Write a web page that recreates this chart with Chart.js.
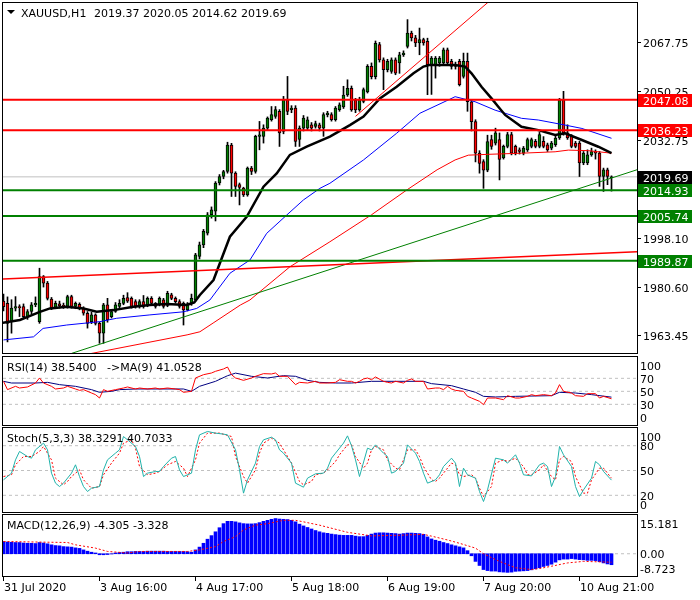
<!DOCTYPE html>
<html>
<head>
<meta charset="utf-8">
<title>XAUUSD,H1</title>
<script src="https://cdn.jsdelivr.net/npm/chart.js@4.4.0/dist/chart.umd.min.js"></script>
<style>
  html, body { margin: 0; padding: 0; background: #fff; }
  #wrap { position: relative; width: 700px; height: 600px; }
  #wrap canvas { position: absolute; left: 0; top: 0; }
</style>
</head>
<body>
<div id="wrap">
  <canvas id="mainChart" width="700" height="600"></canvas>
  <canvas id="rsiChart" width="700" height="600"></canvas>
  <canvas id="stochChart" width="700" height="600"></canvas>
  <canvas id="macdChart" width="700" height="600"></canvas>
</div>
<script>
// ==============================
// DATA
// ==============================
const symbolTitle = "XAUUSD,H1";
const lastQuote = ["2019.37", "2020.05", "2014.62", "2019.69"];

const timeLabels = ["31 Jul 2020", "3 Aug 16:00", "4 Aug 17:00", "5 Aug 18:00", "6 Aug 19:00", "7 Aug 20:00", "10 Aug 21:00"];
const timeLabelBars = [0, 24, 48, 72, 96, 120, 144];

const openPrices = [
  1975.5, 1974.7, 1968.2, 1973.0, 1973.5, 1973.6, 1970.0, 1971.8, 1974.2, 1968.2,
  1984.2, 1981.9, 1976.2, 1973.3, 1974.5, 1974.0, 1973.6, 1977.1, 1973.6, 1974.4,
  1973.0, 1971.2, 1968.2, 1970.6, 1967.6, 1964.1, 1974.2, 1970.0, 1971.8, 1973.6,
  1974.7, 1976.8, 1976.5, 1975.3, 1973.6, 1975.3, 1974.0, 1976.5, 1974.7, 1974.2,
  1976.0, 1974.0, 1977.7, 1976.5, 1975.3, 1974.7, 1972.4, 1974.5, 1975.9, 1991.4,
  1995.5, 1999.7, 2006.2, 2007.5, 2017.5, 2019.8, 2021.6, 2031.0, 2021.0, 2016.9,
  2015.7, 2013.3, 2022.8, 2021.6, 2034.1, 2034.1, 2037.0, 2040.0, 2041.2, 2043.0,
  2035.8, 2047.1, 2043.6, 2044.1, 2033.0, 2037.0, 2037.0, 2038.2, 2037.6, 2038.2,
  2037.0, 2041.8, 2041.8, 2040.0, 2043.6, 2044.6, 2048.8, 2051.2, 2046.9, 2043.5,
  2046.5, 2049.9, 2059.0, 2055.3, 2066.7, 2061.3, 2057.8, 2057.2, 2061.3, 2060.2,
  2063.1, 2066.1, 2070.8, 2069.1, 2067.3, 2068.5, 2067.9, 2059.6, 2059.6, 2060.2,
  2060.2, 2064.9, 2060.8, 2059.6, 2060.8, 2055.4, 2060.8, 2046.4, 2039.3, 2028.1,
  2025.1, 2022.1, 2032.9, 2031.7, 2032.9, 2026.4, 2030.5, 2034.7, 2030.5, 2029.3,
  2028.1, 2029.3, 2030.5, 2032.3, 2030.5, 2032.3, 2031.1, 2029.9, 2031.1, 2033.5,
  2047.1, 2035.3, 2034.1, 2031.7, 2031.7, 2024.6, 2024.6, 2027.5, 2028.7, 2028.1,
  2019.8, 2022.2, 2019.37
];
const highPrices = [
  1978.0, 1977.0, 1976.0, 1977.1, 1974.2, 1974.5, 1972.5, 1975.0, 1977.0, 1987.2,
  1984.6, 1982.5, 1976.8, 1975.5, 1975.5, 1974.8, 1977.6, 1977.6, 1975.2, 1974.9,
  1973.5, 1971.8, 1971.5, 1971.0, 1968.0, 1974.7, 1976.5, 1972.5, 1975.0, 1976.0,
  1977.6, 1978.5, 1977.0, 1976.0, 1976.0, 1977.5, 1977.0, 1977.1, 1975.0, 1977.0,
  1976.5, 1979.0, 1978.3, 1977.0, 1976.0, 1975.2, 1975.0, 1978.0, 1992.5, 1996.5,
  2001.0, 2007.0, 2009.0, 2018.0, 2020.5, 2022.0, 2032.0, 2031.6, 2021.5, 2017.5,
  2016.0, 2023.2, 2023.4, 2034.5, 2039.4, 2038.2, 2041.0, 2044.7, 2044.7, 2043.6,
  2048.3, 2055.4, 2045.0, 2045.0, 2037.8, 2041.5, 2041.0, 2039.0, 2039.5, 2038.8,
  2042.5, 2043.0, 2042.5, 2044.7, 2046.0, 2051.9, 2054.2, 2052.0, 2047.6, 2048.0,
  2051.3, 2059.6, 2060.2, 2068.0, 2067.5, 2062.0, 2061.5, 2062.0, 2062.0, 2064.0,
  2064.5, 2075.6, 2071.5, 2070.0, 2072.6, 2069.0, 2069.0, 2062.5, 2062.5, 2062.5,
  2065.5, 2065.5, 2061.5, 2060.5, 2061.5, 2063.7, 2063.7, 2047.0, 2040.0, 2029.0,
  2025.8, 2034.5, 2034.5, 2037.0, 2035.3, 2031.0, 2035.5, 2035.5, 2031.0, 2030.0,
  2030.5, 2033.5, 2033.5, 2033.0, 2035.5, 2034.0, 2031.7, 2032.3, 2034.1, 2047.6,
  2050.1, 2038.2, 2034.7, 2032.3, 2032.3, 2028.7, 2029.3, 2029.9, 2029.3, 2028.7,
  2022.8, 2022.8, 2020.05
];
const lowPrices = [
  1972.0, 1961.0, 1964.1, 1972.0, 1970.0, 1969.5, 1969.0, 1971.0, 1973.5, 1967.6,
  1980.5, 1975.9, 1972.5, 1972.8, 1973.0, 1972.9, 1973.0, 1973.0, 1972.8, 1972.4,
  1970.5, 1965.9, 1967.5, 1967.0, 1960.5, 1960.5, 1968.0, 1969.5, 1971.5, 1973.0,
  1974.2, 1975.0, 1973.0, 1973.0, 1973.0, 1973.0, 1973.5, 1974.0, 1973.0, 1973.8,
  1973.0, 1973.5, 1976.0, 1974.8, 1973.0, 1967.0, 1972.0, 1974.0, 1975.5, 1990.5,
  1994.5, 1999.0, 2005.0, 2004.0, 2016.8, 2019.0, 2021.0, 2012.7, 2012.7, 2009.7,
  2012.7, 2012.8, 2020.5, 2021.0, 2029.3, 2031.7, 2036.5, 2039.5, 2040.5, 2030.5,
  2035.0, 2041.8, 2042.5, 2030.5, 2030.5, 2036.0, 2036.5, 2036.0, 2037.0, 2036.0,
  2034.1, 2041.0, 2039.5, 2039.5, 2043.0, 2044.0, 2048.3, 2043.0, 2042.5, 2043.0,
  2046.0, 2049.5, 2054.5, 2054.5, 2060.5, 2050.7, 2057.0, 2056.5, 2056.0, 2056.5,
  2062.5, 2065.5, 2068.0, 2066.0, 2063.1, 2066.5, 2048.9, 2049.0, 2054.8, 2059.0,
  2059.5, 2059.5, 2058.0, 2058.0, 2052.0, 2054.8, 2043.0, 2036.0, 2025.0, 2021.0,
  2015.6, 2021.5, 2029.5, 2031.0, 2018.6, 2026.0, 2030.0, 2027.5, 2027.5, 2027.8,
  2027.5, 2028.7, 2030.0, 2030.0, 2030.0, 2030.0, 2028.7, 2029.3, 2030.5, 2033.0,
  2034.5, 2033.0, 2030.0, 2030.0, 2019.8, 2024.0, 2024.0, 2027.0, 2026.0, 2016.3,
  2014.5, 2016.9, 2014.62
];
const closePrices = [
  1973.5, 1967.6, 1973.0, 1973.6, 1973.2, 1970.0, 1971.8, 1974.2, 1974.7, 1984.2,
  1981.9, 1976.5, 1973.0, 1974.7, 1973.8, 1973.6, 1977.1, 1973.6, 1974.7, 1973.0,
  1971.2, 1967.6, 1970.6, 1967.6, 1964.1, 1974.2, 1968.8, 1971.8, 1974.2, 1974.7,
  1976.5, 1975.5, 1973.6, 1973.6, 1975.3, 1973.6, 1976.5, 1974.7, 1973.6, 1976.5,
  1973.6, 1978.3, 1976.5, 1975.3, 1973.6, 1972.4, 1974.5, 1976.5, 1992.0, 1995.5,
  2000.3, 2006.2, 2008.0, 2017.5, 2019.8, 2021.6, 2031.0, 2021.0, 2016.3, 2015.9,
  2013.3, 2022.8, 2021.6, 2034.1, 2034.6, 2037.0, 2040.6, 2041.8, 2043.6, 2035.3,
  2047.1, 2043.0, 2044.1, 2032.3, 2037.0, 2040.6, 2040.0, 2037.0, 2038.6, 2037.0,
  2041.8, 2042.4, 2040.0, 2044.1, 2045.3, 2048.8, 2051.2, 2043.5, 2043.5, 2047.1,
  2050.7, 2059.0, 2055.3, 2067.2, 2061.3, 2057.8, 2060.8, 2061.3, 2056.6, 2063.1,
  2063.7, 2070.8, 2069.1, 2067.3, 2068.5, 2067.3, 2059.6, 2061.9, 2061.9, 2061.9,
  2064.9, 2060.2, 2059.0, 2059.0, 2052.5, 2060.8, 2046.4, 2039.3, 2028.1, 2024.5,
  2022.1, 2032.2, 2030.5, 2035.3, 2025.9, 2030.5, 2034.7, 2028.1, 2028.1, 2028.7,
  2029.9, 2032.9, 2032.9, 2030.5, 2034.7, 2030.5, 2029.3, 2031.7, 2033.5, 2047.1,
  2035.3, 2033.5, 2030.5, 2030.5, 2024.6, 2028.1, 2027.5, 2028.7, 2028.1, 2019.8,
  2022.2, 2019.8, 2019.69
];

// price scale labels and levels
const priceTicks = [2067.75, 2050.25, 2032.75, 2015.25, 1998.10, 1980.60, 1963.45];
const lastPrice = 2019.69;
const resistanceLevels = [2047.08, 2036.23];
const supportLevels = [2014.93, 2005.74, 1989.87];

// moving averages (at their turning points)
const fastMaBars = [-0.9, 4.1, 9.1, 11.6, 15.8, 20, 23.3, 27.5, 32.5, 36.6, 40.8, 45.8, 47.7, 49.1, 52.5, 56.6, 60.8, 65, 68.3, 71.6, 75.8, 81.6, 86.6, 90, 94.1, 98.3, 102.5, 105, 106.6, 112.9, 115.4, 117, 119.5, 122, 123.7, 125.4, 129.5, 133.7, 137.9, 140.4, 144.6, 148.7, 152];
const fastMaValues = [1967.6, 1968.8, 1971.7, 1972.9, 1973.5, 1972.9, 1971.7, 1972.3, 1973.5, 1974.1, 1974.5, 1974.1, 1975.0, 1977.7, 1983.0, 1998.4, 2005.5, 2016.2, 2020.9, 2027.5, 2030.4, 2034.0, 2038.1, 2041.1, 2047.6, 2051.7, 2056.5, 2058.9, 2059.5, 2059.5, 2058.9, 2056.5, 2051.7, 2047.6, 2044.6, 2041.7, 2037.5, 2036.3, 2034.6, 2035.2, 2032.8, 2030.4, 2028.1];
const midMaBars = [0, 7.5, 9.9, 15.8, 24.1, 28.3, 36.6, 45, 48.3, 51.6, 56.6, 61.6, 65.8, 70.8, 75, 79.1, 81.6, 90, 98.3, 104.1, 111.6, 112.9, 117.9, 122.9, 129.5, 133.7, 140.4, 144.6, 152];
const midMaValues = [1961.7, 1962.8, 1965.8, 1967.0, 1968.2, 1969.4, 1970.6, 1971.7, 1972.9, 1975.9, 1985.4, 1990.1, 1999.6, 2006.1, 2011.5, 2015.6, 2017.4, 2025.7, 2035.2, 2042.3, 2047.3, 2048.2, 2046.4, 2043.4, 2040.5, 2039.9, 2038.1, 2036.9, 2033.4];
const slowMaBars = [14, 22.4, 45.9, 49.1, 52.4, 59.2, 61.6, 71.6, 81.6, 92, 100.9, 108.4, 112.9, 116.2, 121.2, 129.5, 137.9, 141.2, 146.2, 152];
const slowMaValues = [1954.8, 1957.0, 1963.5, 1964.6, 1967.7, 1974.1, 1975.9, 1987.7, 1996.6, 2006.2, 2015.1, 2022.2, 2025.7, 2027.4, 2027.7, 2028.1, 2028.6, 2029.2, 2029.0, 2028.1];

// trend lines (two anchor points each)
const greenTrendBars = [17, 159];
const greenTrendPrices = [1956.9, 2022.5];
const redTrendBars = [-1, 159];
const redTrendPrices = [1983.3, 1993.1];
const steepTrendBars = [88, 125];
const steepTrendPrices = [2041.2, 2086.5];

// RSI(14) and its MA(9)
const rsiTitle = ["RSI(14) 38.5400", "->MA(9) 41.0528"];
const rsiBars = [0, 1, 3, 4, 6, 8, 9, 10, 12, 13, 15, 16, 18, 19, 20, 22, 23, 24, 25, 26, 28, 30, 31, 33, 34, 36, 38, 39, 41, 43, 44, 45, 47, 48, 50, 52, 53, 55, 56, 57, 58, 60, 62, 63, 65, 67, 68, 69, 71, 73, 74, 76, 78, 79, 81, 83, 84, 86, 87, 88, 89, 90, 91, 92, 93, 95, 96, 97, 98, 100, 101, 102, 103, 105, 106, 108, 109, 110, 111, 112, 113, 115, 116, 117, 119, 120, 121, 123, 125, 126, 128, 129, 131, 132, 133, 135, 137, 138, 139, 140, 142, 143, 145, 146, 148, 149, 150, 152];
const rsiValues = [65.4, 52.6, 57.7, 55.1, 56.7, 62.8, 70.5, 62.8, 57.7, 53.6, 55.1, 57.7, 53.6, 51.5, 52.6, 47.4, 44.9, 39.7, 52.6, 50.0, 52.6, 55.1, 56.7, 53.6, 55.1, 53.6, 55.1, 53.6, 55.1, 53.6, 52.6, 48.5, 50.0, 70.5, 75.6, 78.2, 80.8, 84.4, 87.4, 75.6, 70.5, 66.9, 70.5, 73.1, 77.2, 76.7, 78.2, 73.1, 73.1, 60.3, 63.8, 62.8, 65.4, 62.8, 62.8, 63.8, 67.9, 65.4, 65.4, 62.8, 65.4, 69.0, 70.5, 67.9, 72.1, 65.4, 63.8, 62.8, 65.4, 62.8, 66.9, 69.0, 65.4, 65.4, 53.6, 55.1, 55.1, 52.6, 57.7, 53.6, 51.5, 50.0, 42.3, 39.7, 34.6, 29.5, 39.7, 39.7, 37.2, 43.3, 39.7, 39.7, 42.3, 44.9, 43.3, 44.9, 43.3, 47.4, 60.3, 50.0, 47.4, 43.3, 42.3, 46.4, 46.4, 39.7, 42.3, 38.54];
const rsiMaBars = [0, 2, 8, 11, 14, 18, 22, 24, 27, 29, 33, 45, 47, 49, 53, 56, 58, 62, 66, 70, 73, 76, 79, 83, 87, 92, 105, 107, 112, 115, 118, 120, 123, 128, 137, 139, 143, 147, 152];
const rsiMaValues = [65.4, 62.8, 62.8, 63.8, 60.3, 57.7, 52.6, 48.5, 50.0, 52.6, 53.6, 53.6, 50.0, 57.7, 65.4, 74.0, 78.0, 73.1, 70.5, 74.1, 73.1, 66.9, 63.8, 62.8, 62.8, 65.4, 65.4, 61.8, 58.7, 53.6, 48.5, 42.3, 41.3, 42.3, 43.3, 48.5, 47.4, 44.9, 41.05];
const rsiLevels = [70, 50, 30];
const rsiScaleTicks = [100, 70, 50, 30, 0];

// Stochastic(5,3,3)
const stochTitle = "Stoch(5,3,3) 38.3291 40.7033";
const stochKBars = [0, 2, 3, 4, 6, 7, 8, 10, 11, 12, 13, 14, 15, 17, 18, 19, 20, 21, 22, 24, 25, 26, 28, 29, 30, 31, 33, 34, 35, 36, 38, 39, 40, 42, 43, 44, 45, 47, 48, 49, 51, 53, 55, 56, 58, 59, 60, 61, 63, 64, 65, 67, 68, 69, 70, 72, 73, 75, 76, 78, 80, 81, 82, 83, 85, 86, 87, 88, 89, 91, 92, 93, 95, 96, 97, 98, 100, 101, 103, 104, 105, 106, 108, 109, 110, 112, 113, 114, 115, 116, 118, 119, 120, 121, 123, 125, 126, 128, 129, 130, 132, 134, 135, 136, 137, 138, 139, 140, 142, 143, 144, 145, 147, 148, 149, 150, 152];
const stochKValues = [38.7, 46.8, 62.9, 73.0, 66.9, 64.9, 75.0, 83.1, 75.0, 46.8, 34.7, 30.6, 34.7, 46.8, 56.9, 42.7, 30.6, 24.6, 28.6, 30.6, 50.8, 62.9, 71.0, 75.0, 91.1, 87.1, 79.0, 66.9, 42.7, 46.8, 48.8, 48.8, 54.8, 64.9, 66.9, 50.8, 42.7, 46.8, 75.0, 93.1, 97.2, 95.2, 94.0, 93.1, 75.0, 50.8, 22.6, 38.7, 58.9, 79.0, 87.1, 90.3, 87.1, 75.0, 71.0, 58.9, 34.7, 29.8, 40.7, 46.0, 46.8, 52.8, 64.9, 71.0, 83.1, 91.9, 80.0, 62.9, 42.7, 77.0, 75.0, 81.0, 71.0, 66.9, 46.8, 48.8, 58.9, 81.0, 71.0, 60.9, 46.8, 34.7, 38.7, 44.8, 54.8, 64.9, 58.9, 30.6, 52.8, 44.8, 40.7, 24.6, 12.5, 26.6, 64.9, 62.9, 58.9, 69.0, 58.9, 44.8, 43.5, 56.9, 58.9, 54.8, 30.6, 42.7, 79.0, 69.0, 54.8, 30.6, 18.5, 26.6, 40.7, 60.9, 56.9, 48.8, 38.33];
const stochDBars = [0, 2, 3, 5, 7, 9, 10, 12, 13, 15, 16, 17, 19, 20, 22, 24, 25, 27, 29, 30, 32, 33, 34, 36, 38, 39, 41, 43, 45, 46, 48, 49, 51, 54, 57, 58, 60, 61, 63, 64, 65, 67, 69, 70, 72, 74, 75, 77, 78, 80, 81, 83, 84, 86, 87, 88, 90, 91, 92, 93, 95, 96, 98, 99, 100, 101, 103, 104, 105, 107, 108, 109, 110, 112, 113, 114, 115, 117, 118, 119, 120, 122, 123, 125, 126, 128, 130, 131, 132, 134, 135, 137, 138, 139, 140, 142, 143, 145, 146, 147, 149, 150, 152];
const stochDValues = [42.7, 44.8, 56.9, 66.9, 66.9, 73.0, 79.0, 62.9, 40.7, 32.7, 36.7, 42.7, 50.8, 38.7, 28.6, 30.6, 44.8, 58.9, 71.0, 83.1, 87.1, 77.0, 54.8, 44.8, 46.8, 48.8, 56.9, 60.9, 52.8, 42.7, 62.9, 83.1, 95.2, 95.2, 91.1, 66.9, 42.7, 34.7, 50.8, 71.0, 83.1, 89.1, 83.1, 75.0, 58.9, 36.7, 32.7, 36.7, 44.8, 46.8, 50.8, 60.9, 69.0, 81.0, 81.0, 66.9, 52.8, 58.9, 75.0, 79.0, 75.0, 62.9, 52.8, 50.8, 62.9, 75.0, 75.0, 66.9, 54.8, 38.7, 36.7, 40.7, 46.8, 58.9, 56.9, 44.8, 42.7, 44.8, 40.7, 28.6, 18.5, 30.6, 58.9, 62.9, 60.9, 64.9, 54.8, 44.8, 44.8, 50.8, 56.9, 42.7, 38.7, 62.9, 66.9, 60.9, 42.7, 22.6, 22.6, 38.7, 52.8, 52.8, 40.70];
const stochLevels = [80, 50, 20];
const stochScaleTicks = [100, 80, 50, 20, 0];

// MACD(12,26,9)
const macdTitle = "MACD(12,26,9) -4.305 -3.328";
const macdHistogram = [
  4.8, 4.6, 4.5, 4.4, 4.4, 4.2, 4.1, 4.1, 4.0, 4.4,
  4.2, 3.9, 3.5, 3.2, 3.1, 2.8, 2.7, 2.6, 2.3, 2.1,
  1.5, 1.0, 0.6, 0.3, -0.4, -0.4, -0.3, -0.1, 0.3, 0.5,
  0.6, 0.8, 0.8, 0.9, 0.9, 0.9, 1.0, 1.0, 1.0, 1.0,
  1.0, 0.9, 0.9, 0.9, 0.9, 0.9, 0.8, 0.6, 1.5, 2.6,
  4.1, 5.7, 7.1, 8.6, 10.2, 11.8, 12.7, 12.7, 12.5, 12.1,
  11.8, 11.7, 11.7, 11.8, 12.2, 12.7, 13.1, 13.5, 13.8, 13.6,
  13.5, 13.4, 13.1, 12.5, 11.6, 10.9, 10.3, 9.7, 9.1, 8.6,
  8.2, 8.0, 7.7, 7.5, 7.3, 7.2, 7.2, 7.2, 6.9, 6.7,
  6.7, 7.2, 7.7, 8.1, 8.2, 8.2, 8.1, 8.0, 7.9, 7.7,
  7.9, 8.1, 8.1, 8.0, 7.9, 7.6, 6.6, 5.8, 5.3, 4.9,
  4.4, 4.0, 3.5, 3.1, 2.7, 2.3, 1.2, -0.8, -3.0, -4.6,
  -6.2, -6.6, -6.8, -6.8, -7.1, -7.2, -7.3, -7.2, -6.9, -6.8,
  -6.7, -6.6, -6.3, -5.9, -5.5, -5.0, -4.6, -4.1, -3.3, -2.4,
  -2.1, -2.1, -1.9, -2.1, -2.3, -2.4, -2.6, -2.6, -2.7, -3.1,
  -3.6, -4.0, -4.305
];
const macdSignalBars = [0, 16, 18, 23, 26, 31, 34, 46, 49, 53, 55, 58, 60, 63, 66, 70, 73, 75, 79, 86, 92, 100, 105, 107, 111, 114, 118, 120, 124, 128, 132, 134, 137, 141, 145, 152];
const macdSignalValues = [4.8, 4.4, 3.5, 2.2, 0.9, 0.3, 0.9, 0.9, 1.5, 2.8, 4.8, 6.7, 9.3, 11.2, 11.8, 13.1, 13.1, 12.5, 11.2, 8.4, 7.0, 7.3, 7.6, 6.9, 5.4, 4.1, 2.2, 0.0, -3.0, -5.5, -6.2, -5.8, -4.9, -3.6, -3.0, -3.328];
const macdScaleTicks = [15.181, 0, -8.723];

// ==============================
// HELPERS
// ==============================
const X_MIN = -0.125, X_MAX = 158.375;
const FONT = "11px 'DejaVu Sans'";
Chart.defaults.font.family = "'DejaVu Sans'";

function pairs(xs, ys) {
  return xs.map((x, i) => ({ x: x, y: ys[i] }));
}

function lineSet(xs, ys, color, width, order, dash) {
  return {
    type: "line",
    data: pairs(xs, ys),
    borderColor: color,
    borderWidth: width,
    borderDash: dash || [],
    pointRadius: 0,
    tension: 0,
    fill: false,
    clip: 0,
    order: order
  };
}

function levelSet(value, color, width, order, dash) {
  return lineSet([X_MIN, X_MAX], [value, value], color, width, order, dash);
}

function drawFrame(chart) {
  const ctx = chart.ctx, a = chart.chartArea;
  ctx.save();
  ctx.strokeStyle = "#000";
  ctx.lineWidth = 1;
  ctx.strokeRect(a.left - 0.5, a.top - 0.5, a.right - a.left + 1, a.bottom - a.top + 1);
  ctx.restore();
}

function makeChart(id, top, bottom, yMin, yMax, datasets, plugin) {
  return new Chart(document.getElementById(id), {
    type: "line",
    data: { datasets: datasets },
    options: {
      responsive: false,
      animation: false,
      devicePixelRatio: 1,
      events: [],
      layout: { padding: { left: 3, right: 63, top: top, bottom: 600 - bottom } },
      plugins: { legend: { display: false }, tooltip: { enabled: false } },
      scales: {
        x: { type: "linear", min: X_MIN, max: X_MAX, offset: false, display: false },
        y: { type: "linear", min: yMin, max: yMax, display: false }
      }
    },
    plugins: [plugin]
  });
}

// right-hand scale text for the indicator windows
function drawIndicatorScale(chart, ticks, format) {
  const ctx = chart.ctx, a = chart.chartArea, y = chart.scales.y;
  ticks.forEach(v => {
    let py = y.getPixelForValue(v);
    py = Math.min(Math.max(py, a.top + 8.5), a.bottom - 7.5);
    ctx.fillText(format(v), 640, py + 4.5);
  });
}

// ==============================
// PRICE WINDOW
// ==============================
const bars = openPrices.map((_, i) => i);
const candleUp = bars.map(i => closePrices[i] >= openPrices[i]);

const mainPlugin = {
  id: "mainPanel",
  afterDraw(chart) {
    const ctx = chart.ctx, a = chart.chartArea, y = chart.scales.y;
    drawFrame(chart);
    ctx.save();
    ctx.font = FONT;
    ctx.textBaseline = "alphabetic";
    ctx.fillStyle = "#000";

    // header
    ctx.beginPath();
    ctx.moveTo(7, 10); ctx.lineTo(15, 10); ctx.lineTo(11, 14);
    ctx.closePath();
    ctx.fill();
    ctx.fillText(symbolTitle, 21, 17);
    ctx.fillText(lastQuote.join(" "), 94, 17);

    // price scale
    priceTicks.forEach(v => {
      const py = Math.round(y.getPixelForValue(v));
      ctx.fillRect(a.right, py, 4, 1);
      ctx.fillText(v.toFixed(2), 643, py + 4.5);
    });

    // level tags
    const tag = (v, bg) => {
      const py = Math.round(y.getPixelForValue(v));
      ctx.fillStyle = bg;
      ctx.fillRect(638, py - 6, 54, 13);
      ctx.fillStyle = "#fff";
      ctx.fillText(v.toFixed(2), 643, py + 4.5);
    };
    resistanceLevels.forEach(v => tag(v, "#ff0000"));
    supportLevels.forEach(v => tag(v, "#008000"));
    tag(lastPrice, "#000");
    ctx.restore();
  }
};

const mainSets = [
  levelSet(lastPrice, "#c0c0c0", 1, 40),
  {
    type: "bar",
    data: bars.map(i => ({ x: i, y: [lowPrices[i], highPrices[i]] })),
    backgroundColor: "#000",
    barThickness: 1,
    grouped: false,
    clip: 0,
    order: 39
  },
  {
    type: "bar",
    data: bars.map(i => ({ x: i, y: [openPrices[i], closePrices[i]] })),
    backgroundColor: candleUp.map(u => u ? "#008000" : "#ff0000"),
    borderColor: "#000",
    borderWidth: 1,
    borderSkipped: false,
    barThickness: 3,
    minBarLength: 1,
    grouped: false,
    clip: 0,
    order: 38
  },
  lineSet(slowMaBars, slowMaValues, "#ff0000", 1, 30),
  lineSet(midMaBars, midMaValues, "#0000ff", 1, 29),
  lineSet(fastMaBars, fastMaValues, "#000000", 2.5, 28),
  lineSet(greenTrendBars, greenTrendPrices, "#008000", 1, 20),
  lineSet(redTrendBars, redTrendPrices, "#ff0000", 1.5, 19),
  lineSet(steepTrendBars, steepTrendPrices, "#ff0000", 1, 18)
];
resistanceLevels.forEach(v => mainSets.push(levelSet(v, "#ff0000", 2, 5)));
supportLevels.forEach(v => mainSets.push(levelSet(v, "#008000", 2, 5)));

makeChart("mainChart", 3, 353, 1957.05, 2081.51, mainSets, mainPlugin);

// ==============================
// RSI WINDOW
// ==============================
const rsiSets = rsiLevels.map(v => levelSet(v, "#c0c0c0", 1, 10, [3, 3]));
rsiSets.push(lineSet(rsiMaBars, rsiMaValues, "#000080", 1, 2));
rsiSets.push(lineSet(rsiBars, rsiValues, "#ff0000", 1, 1));

makeChart("rsiChart", 357, 425, -1.8, 102.8, rsiSets, {
  id: "rsiPanel",
  afterDraw(chart) {
    const ctx = chart.ctx, a = chart.chartArea;
    drawFrame(chart);
    ctx.save();
    ctx.font = FONT;
    ctx.fillStyle = "#000";
    ctx.fillText(rsiTitle[0], 7, a.top + 13.5);
    ctx.fillText(rsiTitle[1], 107, a.top + 13.5);
    drawIndicatorScale(chart, rsiScaleTicks, v => String(v));
    ctx.restore();
  }
});

// ==============================
// STOCHASTIC WINDOW
// ==============================
const stochSets = stochLevels.map(v => levelSet(v, "#c0c0c0", 1, 10, [3, 3]));
stochSets.push(lineSet(stochDBars, stochDValues, "#ff0000", 1, 2, [2, 2]));
stochSets.push(lineSet(stochKBars, stochKValues, "#20b2aa", 1, 1));

makeChart("stochChart", 428, 512, -0.2, 101.4, stochSets, {
  id: "stochPanel",
  afterDraw(chart) {
    const ctx = chart.ctx, a = chart.chartArea;
    drawFrame(chart);
    ctx.save();
    ctx.font = FONT;
    ctx.fillStyle = "#000";
    ctx.fillText(stochTitle, 7, a.top + 13.5);
    drawIndicatorScale(chart, stochScaleTicks, v => String(v));
    ctx.restore();
  }
});

// ==============================
// MACD WINDOW + TIME AXIS
// ==============================
const macdSets = [
  levelSet(0, "#c0c0c0", 1, 10, [3, 3]),
  {
    type: "bar",
    data: bars.map(i => ({ x: i, y: macdHistogram[i] })),
    backgroundColor: "#0000ff",
    barThickness: 3,
    grouped: false,
    clip: 0,
    order: 3
  },
  lineSet(macdSignalBars, macdSignalValues, "#ff0000", 1, 1, [2, 2])
];

makeChart("macdChart", 515, 576, -8.723, 15.181, macdSets, {
  id: "macdPanel",
  afterDraw(chart) {
    const ctx = chart.ctx, a = chart.chartArea, x = chart.scales.x;
    drawFrame(chart);
    ctx.save();
    ctx.font = FONT;
    ctx.fillStyle = "#000";
    ctx.fillText(macdTitle, 7, a.top + 13.5);
    drawIndicatorScale(chart, macdScaleTicks, v => v === 0 ? "0.00" : v.toFixed(3));

    // time axis
    timeLabelBars.forEach((b, i) => {
      const px = Math.floor(x.getPixelForValue(b));
      ctx.fillRect(px, a.bottom + 1, 1, 4);
      ctx.fillText(timeLabels[i], px + 1, 591);
    });
    ctx.restore();
  }
});
</script>
</body>
</html>
